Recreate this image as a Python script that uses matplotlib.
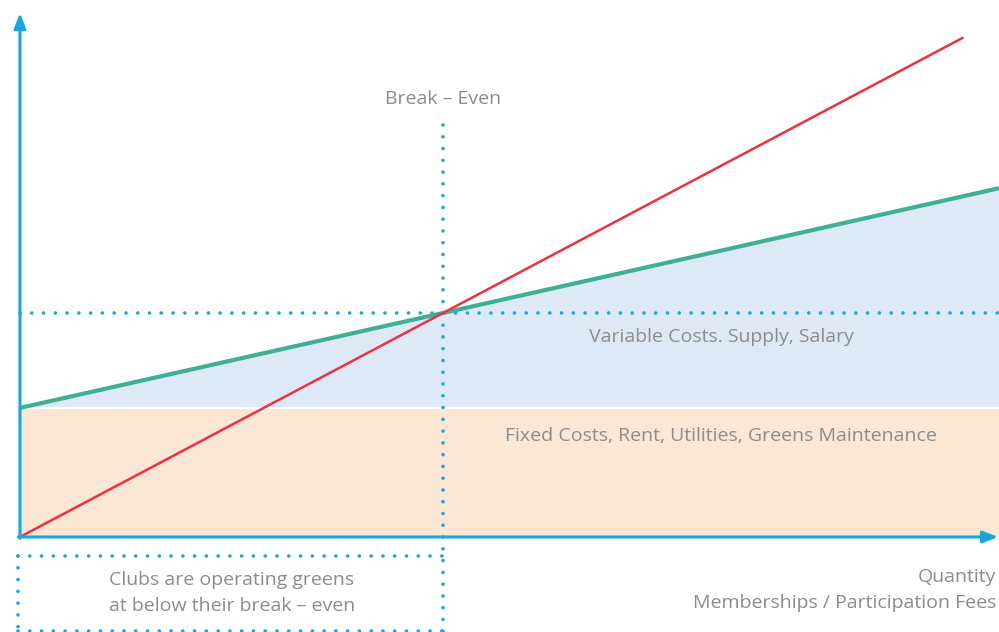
import numpy as np
import matplotlib.pyplot as plt

# cost model (arbitrary units)
fixed_cost = 30.25
variable_cost_per_unit = 4.45
price_per_unit = 10.5
quantity = np.array([0.0, 11.57])
revenue_end = 11.15

break_even_q = fixed_cost / (price_per_unit - variable_cost_per_unit)
break_even_cost = price_per_unit * break_even_q

blue = '#14a8e0'
red = '#ee3140'
green = '#3fb093'
grey = '#8c8c8c'

fig = plt.figure(figsize=(9.99, 6.32), dpi=100)
ax = fig.add_axes([0, 0, 1, 1])
ax.set_xlim(-0.236, 11.57)
ax.set_ylim(-22.27, 125.85)
ax.axis('off')

total_cost = fixed_cost + variable_cost_per_unit * quantity

# fixed costs band and variable costs wedge
ax.fill_between(quantity, 0, fixed_cost, color='#fce6d4', lw=0, zorder=1)
ax.fill_between(quantity, fixed_cost, total_cost, color='#dde9f7', lw=0, zorder=1)
ax.plot(quantity, [fixed_cost, fixed_cost], color='white', lw=1.5, zorder=2)

# total cost and revenue lines
ax.plot(quantity, total_cost, color=green, lw=3.0, zorder=4, solid_capstyle='butt')
rq = np.array([0.0, revenue_end])
ax.plot(rq, price_per_unit * rq, color=red, lw=1.8, zorder=5, solid_capstyle='butt')

# dotted guides
dot = dict(color=blue, lw=2.6, linestyle=(0, (0.01, 3.25)),
           dash_capstyle='round', zorder=3)
ax.plot([break_even_q, break_even_q], [96.6, -22.3], **dot)
ax.plot([0, 11.57], [break_even_cost, break_even_cost], **dot)

# bracket box under the axis
box_top, box_bottom = -4.45, -22.0
ax.plot([-0.02, break_even_q], [box_top, box_top], **dot)
ax.plot([-0.02, break_even_q], [box_bottom, box_bottom], **dot)
ax.plot([-0.02, -0.02], [box_top, box_bottom], **dot)

# axes with arrows
arrow = dict(arrowstyle='-|>,head_length=0.9,head_width=0.35', color=blue,
             lw=2.2, shrinkA=0, shrinkB=0)
ax.annotate('', xy=(0, 122.8), xytext=(0, -0.3), arrowprops=arrow, zorder=6)
ax.annotate('', xy=(11.56, 0), xytext=(-0.02, 0), arrowprops=arrow, zorder=6)

font = dict(color=grey, fontsize=14, family='Open Sans')
fig.text(443 / 999, 1 - 99 / 632, 'Break – Even', ha='center', va='center', **font)
fig.text(721 / 999, 1 - 337 / 632, 'Variable Costs. Supply, Salary',
         ha='center', va='center', **font)
fig.text(721 / 999, 1 - 436 / 632, 'Fixed Costs, Rent, Utilities, Greens Maintenance',
         ha='center', va='center', **font)
fig.text(232 / 999, 1 - 593 / 632, 'Clubs are operating greens\nat below their break – even',
         ha='center', va='center', linespacing=1.6, **font)
fig.text(996 / 999, 1 - 590 / 632, 'Quantity\nMemberships / Participation Fees',
         ha='right', va='center', multialignment='right', linespacing=1.6, **font)

fig.savefig('out.png', dpi=100)
